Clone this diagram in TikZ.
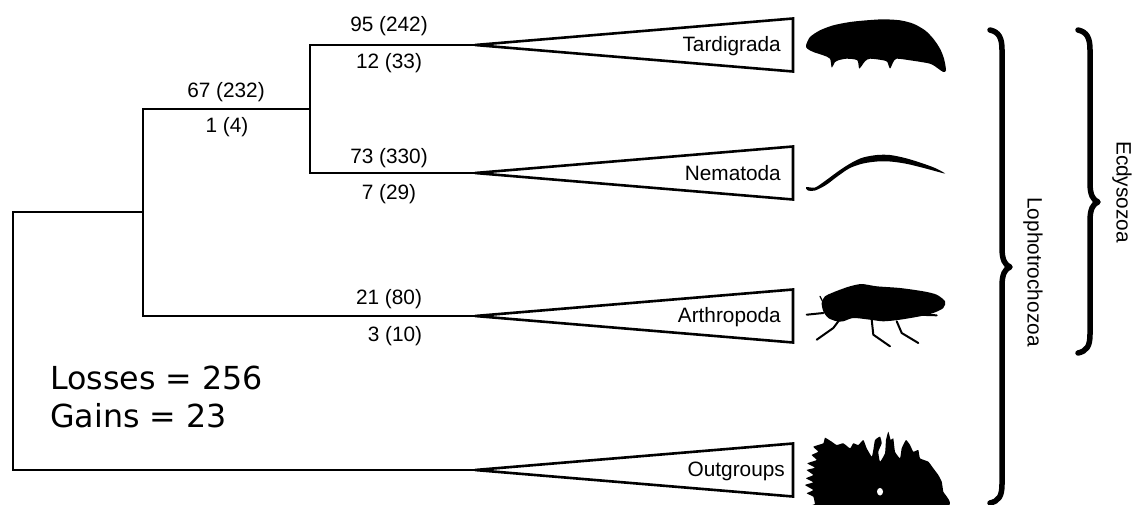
\documentclass[tikz,border=0pt]{standalone}
\usepackage{fontspec}
\usetikzlibrary{calc}
\setmainfont{Liberation Sans}
\newfontfamily\dejavu{DejaVu Sans}
\begin{document}
\begin{tikzpicture}[x=1pt,y=-1pt,
  branch/.style={line width=2.6pt},
  clade/.style={line width=2.6pt},
  count/.style={font=\fontsize{20.8}{24}\selectfont, anchor=base, inner sep=0pt},
  taxon/.style={font=\fontsize{20.8}{24}\selectfont, anchor=base east, inner sep=0pt},
  grouplabel/.style={font=\fontsize{20.8}{24}\selectfont, rotate=-90, inner sep=0pt},
  summary/.style={font=\dejavu\fontsize{31.7}{38}\selectfont, anchor=base west, inner sep=0pt},
  bracket/.style={line width=5.5pt, line cap=round, line join=round},
  silhouette/.style={fill=black, draw=none},
  limb/.style={line width=2pt, line cap=round, line join=round}]
\useasboundingbox (0,0) rectangle (1134,504);

% tree corners
\coordinate (rootTop) at (13,212);
\coordinate (rootBot) at (13,470);
\coordinate (aTop) at (143,109);
\coordinate (aMid) at (143,212);
\coordinate (aBot) at (143,316);
\coordinate (bTop) at (310,45);
\coordinate (bMid) at (310,109);
\coordinate (bBot) at (310,173);
\coordinate (tipTar) at (475,45);
\coordinate (tipNem) at (475,173);
\coordinate (tipArt) at (475,316);
\coordinate (tipOut) at (475,470);

% branches
\draw[branch] (aMid) -- (rootTop) -- (rootBot) -- (tipOut);
\draw[branch] (bMid) -- (aTop) -- (aBot) -- (tipArt);
\draw[branch] (tipTar) -- (bTop) -- (bBot) -- (tipNem);

% collapsed clades
\foreach \t in {tipTar,tipNem,tipArt,tipOut}
  \draw[clade] (\t) -- ++(318,-26.5) -- ++(0,53) -- cycle;

\node[taxon] (tTar) at ($(tipTar)+(306,6.5)$) {Tardigrada};
\node[taxon] (tNem) at ($(tipNem)+(306,7)$) {Nematoda};
\node[taxon] (tArt) at ($(tipArt)+(306,6.5)$) {Arthropoda};
\node[taxon] (tOut) at ($(tipOut)+(310,6.5)$) {Outgroups};

% losses (gains) on branches
\node[count] (lTar) at (389,31.5) {95 (242)};
\node[count] (gTar) at (389,68) {12 (33)};
\node[count] (lA) at (226,97) {67 (232)};
\node[count] (gA) at (227,132) {1 (4)};
\node[count] (lNem) at (389,163) {73 (330)};
\node[count] (gNem) at (389,199) {7 (29)};
\node[count] (lArt) at (389,304) {21 (80)};
\node[count] (gArt) at (395,341.5) {3 (10)};

\node[summary] (loss) at (50,389) {Losses = 256};
\node[summary] (gain) at (50,427) {Gains = 23};

% brackets
\coordinate (lbA) at (990,30);
\coordinate (lbTip) at (1010,267);
\coordinate (lbB) at (990,503);
\draw[bracket] (lbA) .. controls (999,32) and (1002,38) .. (1002,50)
  -- (1002,248) .. controls (1002,260) and (1005,265) .. (lbTip)
  .. controls (1005,269) and (1002,274) .. (1002,286)
  -- (1002,484) .. controls (1002,496) and (999,501) .. (lbB);
\coordinate (ebA) at (1078,30);
\coordinate (ebTip) at (1098,202);
\coordinate (ebB) at (1078,353);
\draw[bracket] (ebA) .. controls (1087,32) and (1090,38) .. (1090,50)
  -- (1090,183) .. controls (1090,195) and (1093,200) .. (ebTip)
  .. controls (1093,204) and (1090,209) .. (1090,221)
  -- (1090,334) .. controls (1090,346) and (1087,351) .. (ebB);
\node[grouplabel] (lopho) at (1033,272) {Lophotrochozoa};
\node[grouplabel] (ecdy) at (1122,192) {Ecdysozoa};

% tardigrade
\fill[silhouette] plot[smooth cycle, tension=0.45] coordinates {
  (806,45.3) (810,37) (820,30.3) (833.3,25.3) (850,22) (866.7,20.3)
  (883.3,19.3) (900,20.3) (913.3,23.7) (925,30.3) (933.3,38.7) (940,48.7)
  (944,58.7) (946,70.3) (943.3,72) (938.3,68.7) (930,63.7) (910,60.3)
  (896.7,58.7) (893.3,62) (890,68.5) (887.3,62) (883.3,60.3) (870,58.7)
  (865,61.3) (859.3,68.5) (857.3,60.3) (846.7,58.7) (838.3,60.3) (835,62)
  (831.7,67.5) (830,58.7) (823.3,55.3) (813.3,52) (807.3,48.7)};

% nematode
\fill[silhouette] plot[smooth cycle, tension=0.5] coordinates {
  (806,187) (815,187.5) (825,181) (840,170) (852,162.5) (863,157.5) (877,155)
  (890,155) (905,158) (920,162.5) (935,168) (945,173.5)
  (935,171) (920,167) (905,163.5) (890,161.5) (877,161.5) (863,163.5)
  (850,168) (838,176) (826,185) (815,190.5) (808,190.5)};

% fly
\fill[silhouette] plot[smooth cycle, tension=0.45] coordinates {
  (825,296.3) (831.7,293) (840,289.7) (850,286.3) (861.7,284) (876.7,286.3)
  (900,288) (923.3,291.3) (936.7,294.7) (945,301.3) (943.3,308) (933.3,313)
  (920,316.3) (900,319.7) (883.3,321.3) (870,319.7) (853.3,318) (843.3,321.3)
  (836.7,321.3) (828.3,318) (823.3,311.3) (821.7,303)};
\draw[limb] (806.7,314.7) -- (823.3,313);
\draw[limb] (843.3,314.7) -- (833.3,328) -- (816.7,339.7);
\draw[limb] (871.7,319.7) -- (873.3,334.7) -- (890,346.3);
\draw[limb] (896.7,321.3) -- (901.7,333) -- (918.3,343);
\draw[limb] (916.7,314.7) -- (936.7,315.3);
\draw[limb, line width=1.2pt] (820,296.3) -- (823.3,303);

% outgroup sponge
\fill[silhouette] plot[smooth cycle, tension=0.25] coordinates {
  (815,504) (813.3,496.7) (806.7,493.3) (813.3,490)
  (805,485) (813.3,482.3) (806,478.3) (813.3,475) (806.7,470)
  (815,467.7) (807.3,463.3) (816.7,460) (811.7,455)
  (818.3,451.7) (813.3,446.7) (823.3,443.3) (825,437.7)
  (831.7,441.7) (836.7,445) (843.3,443.3) (850,448.3)
  (853.3,443.3) (858.3,445) (863.3,440) (866.7,448.3)
  (871.7,456.7) (873.3,450) (875,440) (880,436.7)
  (881.7,443.3) (878.3,451.7) (880,461.7) (885,453.3)
  (886,440) (888.3,431.7) (890.7,440) (893.3,438.3)
  (895,451.7) (900,458.3) (901.7,448.3) (906,440) (910,445)
  (913.3,451.7) (918.3,450) (920,458.3) (928.3,461.7)
  (933.3,468.3) (938.3,475) (941.7,481.7) (943.3,491.7)
  (946.7,506) (815,506)};
\fill[white] (880,491.7) ellipse (3 and 3.8);
\end{tikzpicture}
\end{document}
